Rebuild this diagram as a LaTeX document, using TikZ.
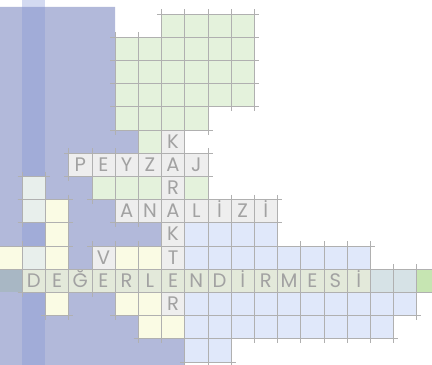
\documentclass[tikz,border=0pt]{standalone}
\usepackage{fontspec}
\setmainfont{Poppins}
\definecolor{arkamavi}{RGB}{178,185,218}
\definecolor{serit}{RGB}{130,150,215}
\definecolor{yesil}{RGB}{228,242,220}
\definecolor{acikmavi}{RGB}{224,232,250}
\definecolor{sari}{RGB}{250,251,228}
\definecolor{acik}{RGB}{232,239,236}
\definecolor{harfkare}{RGB}{238,238,238}
\definecolor{bantharf}{RGB}{227,233,218}
\definecolor{bantmavi}{RGB}{214,226,230}
\definecolor{bantyesil}{RGB}{198,229,178}
\definecolor{bantkoyu}{RGB}{168,183,196}
\definecolor{cizgigri}{RGB}{176,176,176}
\definecolor{harfgri}{RGB}{162,162,162}
\pgfdeclarelayer{cizgi}
\pgfsetlayers{main,cizgi}
\tikzset{
  izgara/.style={draw=cizgigri, line width=.9pt},
  harf/.style={text=harfgri, font=\fontsize{24}{24}\selectfont, inner sep=0pt, anchor=base},
}
% one square of the puzzle: colour, column, row
\newcommand{\kare}[3]{%
  \fill[#1] (#2,#3) rectangle ++(1,1);
  \begin{pgfonlayer}{cizgi}
    \draw[izgara] (#2-.2,#3) -- (#2+1.2,#3) (#2-.2,#3+1) -- (#2+1.2,#3+1)
      (#2,#3-.2) -- (#2,#3+1.2) (#2+1,#3-.2) -- (#2+1,#3+1.2);
  \end{pgfonlayer}}
\begin{document}
\begin{tikzpicture}[x=1cm,y=-1cm]
  \clip (-4.96,-0.6) rectangle (13.66,15.09);
  % background
  \fill[arkamavi] (-5,-0.3) -- (0,-0.3) -- (0,5) -- (1,5) -- (1,6) -- (3,6) -- (3,16) -- (-5,16) -- cycle;
  \fill[serit, opacity=.35] (-4,-1) rectangle (-3,16);
  % green squares
  \foreach \c in {2,...,5} {\kare{yesil}{\c}{0}}
  \foreach \r in {1,2,3} \foreach \c in {0,...,5} {\kare{yesil}{\c}{\r}}
  \foreach \c in {0,...,3} {\kare{yesil}{\c}{4}}
  \foreach \c/\r in {1/5,-1/7,0/7,1/7,3/7} {\kare{yesil}{\c}{\r}}
  % pale and yellow squares
  \foreach \r in {7,8,10} {\kare{acik}{-4}{\r}}
  \foreach \c/\r in {-3/8,-3/9,-5/10,-3/10,0/10,1/10,-3/12,0/12,1/12,1/13,2/13} {\kare{sari}{\c}{\r}}
  % blue squares
  \foreach \c in {3,...,6} {\kare{acikmavi}{\c}{9}}
  \foreach \c in {3,...,10} {\kare{acikmavi}{\c}{10}}
  \foreach \c in {3,...,12} {\kare{acikmavi}{\c}{12}}
  \foreach \c in {3,...,11} {\kare{acikmavi}{\c}{13}}
  \foreach \c in {3,4} {\kare{acikmavi}{\c}{14}}
  \foreach \c in {11,12} {\kare{bantmavi}{\c}{11}}
  \kare{bantyesil}{13}{11}
  \fill[bantkoyu] (-5,11) rectangle (-4,12);
  % words
  \foreach \h [count=\i from -2] in {P,E,Y,Z,A,J} {\kare{harfkare}{\i}{6} \node[harf] (peyzaj\i) at (\i+.5,6.78) {\h};}
  \foreach \h [count=\i from 0] in {A,N,A,L,İ,Z,İ} {\kare{harfkare}{\i}{8} \node[harf] (analiz\i) at (\i+.5,8.78) {\h};}
  \foreach \h/\r in {K/5,R/7,K/9,T/10,R/12} {\kare{harfkare}{2}{\r} \node[harf] (karakter\r) at (2.5,\r+.78) {\h};}
  \kare{harfkare}{-1}{10}
  \node[harf] (v) at (-.5,10.78) {V};
  \foreach \h [count=\i from -4] in {D,E,Ğ,E,R,L,E,N,D,İ,R,M,E,S,İ} {\kare{bantharf}{\i}{11} \node[harf] (deger\i) at (\i+.5,11.78) {\h};}
\end{tikzpicture}
\end{document}
